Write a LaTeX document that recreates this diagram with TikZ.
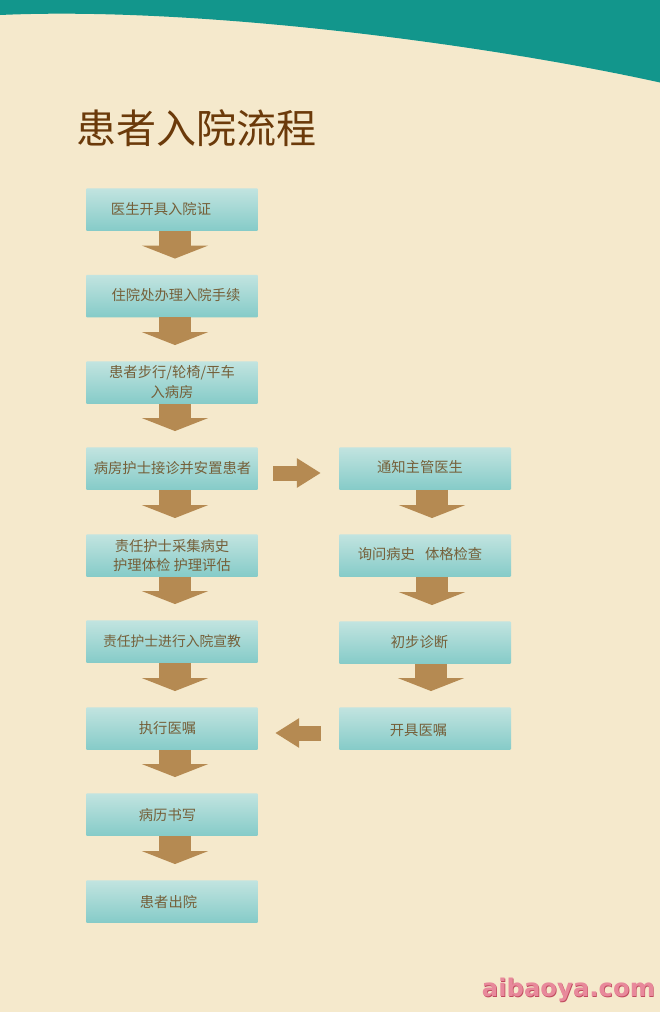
\documentclass[tikz,border=0pt]{standalone}
\usepackage{fontspec}
\setmainfont{Noto Sans CJK SC}
\newfontfamily\markfont{DejaVu Sans}
\usetikzlibrary{arrows.meta}
\definecolor{creme}{HTML}{F5E9CC}
\definecolor{sarcelle}{HTML}{12968C}
\definecolor{fleche}{HTML}{B58A52}
\definecolor{titre}{HTML}{6B3A0A}
\definecolor{texte}{HTML}{75603A}
\definecolor{hautboite}{HTML}{C2E4E0}
\definecolor{basboite}{HTML}{85CBC8}
\definecolor{rose}{HTML}{E8899B}
\definecolor{ombrerose}{HTML}{C04A5E}
\tikzset{
    boite/.style={minimum width=172pt, minimum height=42.5pt, inner sep=0pt, rounded corners=1pt, top color=hautboite, bottom color=basboite},
    legende/.style={inner sep=0pt, text=texte, font=\fontsize{14.3pt}{19.5pt}\selectfont, align=center},
    descente/.style={draw=fleche, line width=32pt, -{Triangle[length=13pt,width=66pt]}, shorten >=16pt},
    cote/.style={draw=fleche, line width=15pt, -{Triangle[length=24pt,width=28pt]}},
    marque/.style={inner sep=0pt, font=\markfont\bfseries\fontsize{24.3pt}{25pt}\selectfont}
}
\begin{document}
\begin{tikzpicture}[x=1pt,y=-1pt]
    % Fond et bandeau du haut
    \useasboundingbox (0,0) rectangle (660,1012);
    \fill[creme] (0,0) rectangle (660,1012);
    \fill[sarcelle] (0,0) -- (660,0) -- (660,82.5) .. controls (490,45) and (200,6) .. (0,15) -- cycle;
    \node[inner sep=0pt, text=titre, font=\fontsize{40pt}{40pt}\selectfont] (titre) at (196.5,128) {患者入院流程};

    % Colonne de gauche
    \node[boite] (certificat) at (172,209.5) {};
    \node[boite] (formalites) at (172,296) {};
    \node[boite] (chambre) at (172,382.5) {};
    \node[boite] (accueil) at (172,468.5) {};
    \node[boite] (anamnese) at (172,555.5) {};
    \node[boite] (education) at (172,641.5) {};
    \node[boite] (execution) at (172,728.5) {};
    \node[boite] (dossier) at (172,814.5) {};
    \node[boite] (sortie) at (172,901.5) {};

    % Colonne de droite
    \node[boite] (medecin) at (425,468.5) {};
    \node[boite] (examen) at (425,555.5) {};
    \node[boite] (diagnostic) at (425,642.5) {};
    \node[boite] (ordonnance) at (425,728.5) {};

    % Textes des boites
    \node[legende] (tcertificat) at (161,209.5) {医生开具入院证};
    \node[legende] (tformalites) at (176,295.5) {住院处办理入院手续};
    \node[legende] (tchambre) at (172,382) {患者步行/轮椅/平车\\入病房};
    \node[legende] (taccueil) at (172.5,468.5) {病房护士接诊并安置患者};
    \node[legende] (tanamnese) at (172,555.5) {责任护士采集病史\\护理体检 护理评估};
    \node[legende, font=\fontsize{13.8pt}{19.5pt}\selectfont] (teducation) at (172,641.5) {责任护士进行入院宣教};
    \node[legende] (texecution) at (167.5,728.5) {执行医嘱};
    \node[legende] (tdossier) at (167.5,815.5) {病历书写};
    \node[legende] (tsortie) at (168.5,901.5) {患者出院};
    \node[legende] (tmedecin) at (420,467.5) {通知主管医生};
    \node[legende] (texamen) at (420,554.5) {询问病史\hspace{10pt}体格检查};
    \node[legende] (tdiagnostic) at (419.5,642.5) {初步诊断};
    \node[legende] (tordonnance) at (418.5,730.5) {开具医嘱};

    % Fleches vers le bas
    \draw[descente] ([xshift=3pt]certificat.south) -- ([xshift=3pt]formalites.north);
    \draw[descente] ([xshift=3pt]formalites.south) -- ([xshift=3pt]chambre.north);
    \draw[descente] ([xshift=3pt]chambre.south) -- ([xshift=3pt]accueil.north);
    \draw[descente] ([xshift=3pt]accueil.south) -- ([xshift=3pt]anamnese.north);
    \draw[descente] ([xshift=3pt]anamnese.south) -- ([xshift=3pt]education.north);
    \draw[descente] ([xshift=3pt]education.south) -- ([xshift=3pt]execution.north);
    \draw[descente] ([xshift=3pt]execution.south) -- ([xshift=3pt]dossier.north);
    \draw[descente] ([xshift=3pt]dossier.south) -- ([xshift=3pt]sortie.north);
    \draw[descente] ([xshift=7pt]medecin.south) -- ([xshift=7pt]examen.north);
    \draw[descente] ([xshift=7pt]examen.south) -- ([xshift=7pt]diagnostic.north);
    \draw[descente] ([xshift=6pt]diagnostic.south) -- ([xshift=6pt]ordonnance.north);

    % Fleches laterales
    \draw[cote, shorten <=15pt, shorten >=18pt] ([yshift=-4.5pt]accueil.east) -- ([yshift=-4.5pt]medecin.west);
    \draw[cote, shorten <=18pt, shorten >=17pt] ([yshift=-4.5pt]ordonnance.west) -- ([yshift=-4.5pt]execution.east);

    % Filigrane
    \node[marque, text=ombrerose] (ombre) at (569.2,990.7) {aibaoya.com};
    \node[marque, text=rose] (filigrane) at (568.5,990) {aibaoya.com};
\end{tikzpicture}
\end{document}
